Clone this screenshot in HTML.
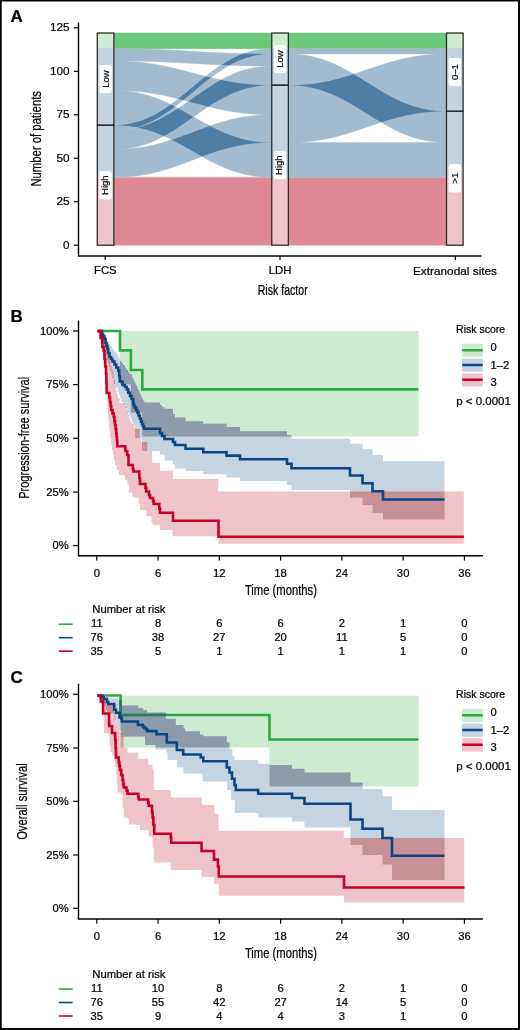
<!DOCTYPE html>
<html><head><meta charset="utf-8"><style>
html,body{margin:0;padding:0;background:#fff;}
svg{display:block;font-family:"Liberation Sans", sans-serif;will-change:transform;}
text{stroke:#000;stroke-width:0.22px;}
</style></head><body>
<svg width="520" height="1030" viewBox="0 0 520 1030">
<rect x="0" y="0" width="520" height="1030" fill="#fff"/>
<path d="M97.30,33.04 97.30,48.69 113.90,48.69 116.09,48.69 118.26,48.69 120.40,48.69 122.50,48.69 124.58,48.69 126.64,48.69 128.66,48.69 130.66,48.69 132.64,48.69 134.59,48.69 136.52,48.69 138.42,48.69 140.31,48.69 142.17,48.69 144.01,48.69 145.83,48.69 147.63,48.69 149.41,48.69 151.17,48.69 152.92,48.69 154.65,48.69 156.36,48.69 158.06,48.69 159.74,48.69 161.41,48.69 163.06,48.69 164.70,48.69 166.33,48.69 167.95,48.69 169.56,48.69 171.15,48.69 172.74,48.69 174.32,48.69 175.89,48.69 177.45,48.69 179.01,48.69 180.56,48.69 182.11,48.69 183.65,48.69 185.18,48.69 186.71,48.69 188.24,48.69 189.77,48.69 191.30,48.69 192.82,48.69 194.35,48.69 195.88,48.69 197.41,48.69 198.94,48.69 200.47,48.69 202.00,48.69 203.54,48.69 205.09,48.69 206.64,48.69 208.20,48.69 209.76,48.69 211.33,48.69 212.91,48.69 214.50,48.69 216.09,48.69 217.70,48.69 219.32,48.69 220.95,48.69 222.59,48.69 224.24,48.69 225.91,48.69 227.59,48.69 229.29,48.69 231.00,48.69 232.73,48.69 234.48,48.69 236.24,48.69 238.02,48.69 239.82,48.69 241.64,48.69 243.48,48.69 245.34,48.69 247.23,48.69 249.13,48.69 251.06,48.69 253.01,48.69 254.99,48.69 256.99,48.69 259.01,48.69 261.07,48.69 263.15,48.69 265.25,48.69 267.39,48.69 269.56,48.69 271.75,48.69 288.35,48.69 290.55,48.69 292.72,48.69 294.86,48.69 296.97,48.69 299.05,48.69 301.11,48.69 303.14,48.69 305.15,48.69 307.13,48.69 309.08,48.69 311.01,48.69 312.92,48.69 314.81,48.69 316.67,48.69 318.52,48.69 320.34,48.69 322.14,48.69 323.93,48.69 325.69,48.69 327.44,48.69 329.17,48.69 330.89,48.69 332.59,48.69 334.28,48.69 335.95,48.69 337.60,48.69 339.25,48.69 340.88,48.69 342.50,48.69 344.11,48.69 345.71,48.69 347.30,48.69 348.88,48.69 350.46,48.69 352.02,48.69 353.58,48.69 355.14,48.69 356.68,48.69 358.23,48.69 359.77,48.69 361.30,48.69 362.84,48.69 364.37,48.69 365.90,48.69 367.42,48.69 368.95,48.69 370.48,48.69 372.01,48.69 373.55,48.69 375.08,48.69 376.62,48.69 378.17,48.69 379.71,48.69 381.27,48.69 382.83,48.69 384.39,48.69 385.97,48.69 387.55,48.69 389.14,48.69 390.74,48.69 392.35,48.69 393.97,48.69 395.60,48.69 397.25,48.69 398.90,48.69 400.57,48.69 402.26,48.69 403.96,48.69 405.68,48.69 407.41,48.69 409.16,48.69 410.92,48.69 412.71,48.69 414.51,48.69 416.33,48.69 418.18,48.69 420.04,48.69 421.93,48.69 423.84,48.69 425.77,48.69 427.72,48.69 429.70,48.69 431.71,48.69 433.74,48.69 435.80,48.69 437.88,48.69 439.99,48.69 442.13,48.69 444.30,48.69 446.50,48.69 463.10,48.69 463.10,33.04 446.50,33.04 444.30,33.04 442.13,33.04 439.99,33.04 437.88,33.04 435.80,33.04 433.74,33.04 431.71,33.04 429.70,33.04 427.72,33.04 425.77,33.04 423.84,33.04 421.93,33.04 420.04,33.04 418.18,33.04 416.33,33.04 414.51,33.04 412.71,33.04 410.92,33.04 409.16,33.04 407.41,33.04 405.68,33.04 403.96,33.04 402.26,33.04 400.57,33.04 398.90,33.04 397.25,33.04 395.60,33.04 393.97,33.04 392.35,33.04 390.74,33.04 389.14,33.04 387.55,33.04 385.97,33.04 384.39,33.04 382.83,33.04 381.27,33.04 379.71,33.04 378.17,33.04 376.62,33.04 375.08,33.04 373.55,33.04 372.01,33.04 370.48,33.04 368.95,33.04 367.42,33.04 365.90,33.04 364.37,33.04 362.84,33.04 361.30,33.04 359.77,33.04 358.23,33.04 356.68,33.04 355.14,33.04 353.58,33.04 352.02,33.04 350.46,33.04 348.88,33.04 347.30,33.04 345.71,33.04 344.11,33.04 342.50,33.04 340.88,33.04 339.25,33.04 337.60,33.04 335.95,33.04 334.28,33.04 332.59,33.04 330.89,33.04 329.17,33.04 327.44,33.04 325.69,33.04 323.93,33.04 322.14,33.04 320.34,33.04 318.52,33.04 316.67,33.04 314.81,33.04 312.92,33.04 311.01,33.04 309.08,33.04 307.13,33.04 305.15,33.04 303.14,33.04 301.11,33.04 299.05,33.04 296.97,33.04 294.86,33.04 292.72,33.04 290.55,33.04 288.35,33.04 271.75,33.04 269.56,33.04 267.39,33.04 265.25,33.04 263.15,33.04 261.07,33.04 259.01,33.04 256.99,33.04 254.99,33.04 253.01,33.04 251.06,33.04 249.13,33.04 247.23,33.04 245.34,33.04 243.48,33.04 241.64,33.04 239.82,33.04 238.02,33.04 236.24,33.04 234.48,33.04 232.73,33.04 231.00,33.04 229.29,33.04 227.59,33.04 225.91,33.04 224.24,33.04 222.59,33.04 220.95,33.04 219.32,33.04 217.70,33.04 216.09,33.04 214.50,33.04 212.91,33.04 211.33,33.04 209.76,33.04 208.20,33.04 206.64,33.04 205.09,33.04 203.54,33.04 202.00,33.04 200.47,33.04 198.94,33.04 197.41,33.04 195.88,33.04 194.35,33.04 192.82,33.04 191.30,33.04 189.77,33.04 188.24,33.04 186.71,33.04 185.18,33.04 183.65,33.04 182.11,33.04 180.56,33.04 179.01,33.04 177.45,33.04 175.89,33.04 174.32,33.04 172.74,33.04 171.15,33.04 169.56,33.04 167.95,33.04 166.33,33.04 164.70,33.04 163.06,33.04 161.41,33.04 159.74,33.04 158.06,33.04 156.36,33.04 154.65,33.04 152.92,33.04 151.17,33.04 149.41,33.04 147.63,33.04 145.83,33.04 144.01,33.04 142.17,33.04 140.31,33.04 138.42,33.04 136.52,33.04 134.59,33.04 132.64,33.04 130.66,33.04 128.66,33.04 126.64,33.04 124.58,33.04 122.50,33.04 120.40,33.04 118.26,33.04 116.09,33.04 113.90,33.04Z" fill="#6dc87b" stroke="#6dc87b" stroke-width="0.5"/>
<path d="M97.30,177.38 97.30,245.20 113.90,245.20 116.09,245.20 118.26,245.20 120.40,245.20 122.50,245.20 124.58,245.20 126.64,245.20 128.66,245.20 130.66,245.20 132.64,245.20 134.59,245.20 136.52,245.20 138.42,245.20 140.31,245.20 142.17,245.20 144.01,245.20 145.83,245.20 147.63,245.20 149.41,245.20 151.17,245.20 152.92,245.20 154.65,245.20 156.36,245.20 158.06,245.20 159.74,245.20 161.41,245.20 163.06,245.20 164.70,245.20 166.33,245.20 167.95,245.20 169.56,245.20 171.15,245.20 172.74,245.20 174.32,245.20 175.89,245.20 177.45,245.20 179.01,245.20 180.56,245.20 182.11,245.20 183.65,245.20 185.18,245.20 186.71,245.20 188.24,245.20 189.77,245.20 191.30,245.20 192.82,245.20 194.35,245.20 195.88,245.20 197.41,245.20 198.94,245.20 200.47,245.20 202.00,245.20 203.54,245.20 205.09,245.20 206.64,245.20 208.20,245.20 209.76,245.20 211.33,245.20 212.91,245.20 214.50,245.20 216.09,245.20 217.70,245.20 219.32,245.20 220.95,245.20 222.59,245.20 224.24,245.20 225.91,245.20 227.59,245.20 229.29,245.20 231.00,245.20 232.73,245.20 234.48,245.20 236.24,245.20 238.02,245.20 239.82,245.20 241.64,245.20 243.48,245.20 245.34,245.20 247.23,245.20 249.13,245.20 251.06,245.20 253.01,245.20 254.99,245.20 256.99,245.20 259.01,245.20 261.07,245.20 263.15,245.20 265.25,245.20 267.39,245.20 269.56,245.20 271.75,245.20 288.35,245.20 290.55,245.20 292.72,245.20 294.86,245.20 296.97,245.20 299.05,245.20 301.11,245.20 303.14,245.20 305.15,245.20 307.13,245.20 309.08,245.20 311.01,245.20 312.92,245.20 314.81,245.20 316.67,245.20 318.52,245.20 320.34,245.20 322.14,245.20 323.93,245.20 325.69,245.20 327.44,245.20 329.17,245.20 330.89,245.20 332.59,245.20 334.28,245.20 335.95,245.20 337.60,245.20 339.25,245.20 340.88,245.20 342.50,245.20 344.11,245.20 345.71,245.20 347.30,245.20 348.88,245.20 350.46,245.20 352.02,245.20 353.58,245.20 355.14,245.20 356.68,245.20 358.23,245.20 359.77,245.20 361.30,245.20 362.84,245.20 364.37,245.20 365.90,245.20 367.42,245.20 368.95,245.20 370.48,245.20 372.01,245.20 373.55,245.20 375.08,245.20 376.62,245.20 378.17,245.20 379.71,245.20 381.27,245.20 382.83,245.20 384.39,245.20 385.97,245.20 387.55,245.20 389.14,245.20 390.74,245.20 392.35,245.20 393.97,245.20 395.60,245.20 397.25,245.20 398.90,245.20 400.57,245.20 402.26,245.20 403.96,245.20 405.68,245.20 407.41,245.20 409.16,245.20 410.92,245.20 412.71,245.20 414.51,245.20 416.33,245.20 418.18,245.20 420.04,245.20 421.93,245.20 423.84,245.20 425.77,245.20 427.72,245.20 429.70,245.20 431.71,245.20 433.74,245.20 435.80,245.20 437.88,245.20 439.99,245.20 442.13,245.20 444.30,245.20 446.50,245.20 463.10,245.20 463.10,177.38 446.50,177.38 444.30,177.38 442.13,177.38 439.99,177.38 437.88,177.38 435.80,177.38 433.74,177.38 431.71,177.38 429.70,177.38 427.72,177.38 425.77,177.38 423.84,177.38 421.93,177.38 420.04,177.38 418.18,177.38 416.33,177.38 414.51,177.38 412.71,177.38 410.92,177.38 409.16,177.38 407.41,177.38 405.68,177.38 403.96,177.38 402.26,177.38 400.57,177.38 398.90,177.38 397.25,177.38 395.60,177.38 393.97,177.38 392.35,177.38 390.74,177.38 389.14,177.38 387.55,177.38 385.97,177.38 384.39,177.38 382.83,177.38 381.27,177.38 379.71,177.38 378.17,177.38 376.62,177.38 375.08,177.38 373.55,177.38 372.01,177.38 370.48,177.38 368.95,177.38 367.42,177.38 365.90,177.38 364.37,177.38 362.84,177.38 361.30,177.38 359.77,177.38 358.23,177.38 356.68,177.38 355.14,177.38 353.58,177.38 352.02,177.38 350.46,177.38 348.88,177.38 347.30,177.38 345.71,177.38 344.11,177.38 342.50,177.38 340.88,177.38 339.25,177.38 337.60,177.38 335.95,177.38 334.28,177.38 332.59,177.38 330.89,177.38 329.17,177.38 327.44,177.38 325.69,177.38 323.93,177.38 322.14,177.38 320.34,177.38 318.52,177.38 316.67,177.38 314.81,177.38 312.92,177.38 311.01,177.38 309.08,177.38 307.13,177.38 305.15,177.38 303.14,177.38 301.11,177.38 299.05,177.38 296.97,177.38 294.86,177.38 292.72,177.38 290.55,177.38 288.35,177.38 271.75,177.38 269.56,177.38 267.39,177.38 265.25,177.38 263.15,177.38 261.07,177.38 259.01,177.38 256.99,177.38 254.99,177.38 253.01,177.38 251.06,177.38 249.13,177.38 247.23,177.38 245.34,177.38 243.48,177.38 241.64,177.38 239.82,177.38 238.02,177.38 236.24,177.38 234.48,177.38 232.73,177.38 231.00,177.38 229.29,177.38 227.59,177.38 225.91,177.38 224.24,177.38 222.59,177.38 220.95,177.38 219.32,177.38 217.70,177.38 216.09,177.38 214.50,177.38 212.91,177.38 211.33,177.38 209.76,177.38 208.20,177.38 206.64,177.38 205.09,177.38 203.54,177.38 202.00,177.38 200.47,177.38 198.94,177.38 197.41,177.38 195.88,177.38 194.35,177.38 192.82,177.38 191.30,177.38 189.77,177.38 188.24,177.38 186.71,177.38 185.18,177.38 183.65,177.38 182.11,177.38 180.56,177.38 179.01,177.38 177.45,177.38 175.89,177.38 174.32,177.38 172.74,177.38 171.15,177.38 169.56,177.38 167.95,177.38 166.33,177.38 164.70,177.38 163.06,177.38 161.41,177.38 159.74,177.38 158.06,177.38 156.36,177.38 154.65,177.38 152.92,177.38 151.17,177.38 149.41,177.38 147.63,177.38 145.83,177.38 144.01,177.38 142.17,177.38 140.31,177.38 138.42,177.38 136.52,177.38 134.59,177.38 132.64,177.38 130.66,177.38 128.66,177.38 126.64,177.38 124.58,177.38 122.50,177.38 120.40,177.38 118.26,177.38 116.09,177.38 113.90,177.38Z" fill="#e08996" stroke="#e08996" stroke-width="0.5"/>
<path d="M97.30,130.43 97.30,149.55 97.30,177.38 113.90,177.38 116.09,177.37 118.26,177.33 120.40,177.27 122.50,177.18 124.58,177.07 126.64,176.94 128.66,176.78 130.66,176.60 132.64,176.41 134.59,176.19 136.52,175.95 138.42,175.69 140.31,175.41 142.17,175.12 144.01,174.80 145.83,174.47 147.63,174.13 149.41,173.76 151.17,173.38 152.92,172.99 154.65,172.58 156.36,172.16 158.06,171.73 159.74,171.28 161.41,170.82 163.06,170.35 164.70,169.87 166.33,169.37 167.95,168.87 169.56,168.36 171.15,167.84 172.74,167.32 174.32,166.78 175.89,166.24 177.45,165.69 179.01,165.14 180.56,164.58 182.11,164.01 183.65,163.45 185.18,162.88 186.71,162.30 188.24,161.73 189.77,161.15 191.30,160.57 192.82,159.99 194.35,159.41 195.88,158.83 197.41,158.25 198.94,157.68 200.47,157.10 202.00,156.53 202.06,156.51 203.54,157.33 205.09,158.18 206.64,159.02 208.20,159.85 209.76,160.67 211.33,161.48 212.91,162.28 214.50,163.07 216.09,163.85 217.70,164.62 219.32,165.37 220.95,166.11 222.59,166.83 224.24,167.54 225.91,168.23 227.59,168.90 229.29,169.55 231.00,170.18 232.73,170.80 234.48,171.39 236.24,171.95 238.02,172.50 239.82,173.02 241.64,173.51 243.48,173.98 245.34,174.43 247.23,174.84 249.13,175.23 251.06,175.59 253.01,175.92 254.99,176.22 256.99,176.48 259.01,176.71 261.07,176.91 263.15,177.08 265.25,177.21 267.39,177.30 269.56,177.36 271.75,177.38 288.35,177.38 290.55,177.38 292.72,177.38 294.86,177.38 296.97,177.38 299.05,177.38 301.11,177.38 303.14,177.38 305.15,177.38 307.13,177.38 309.08,177.38 311.01,177.38 312.92,177.38 314.81,177.38 316.67,177.38 318.52,177.38 320.34,177.38 322.14,177.38 323.93,177.38 325.69,177.38 327.44,177.38 329.17,177.38 330.89,177.38 332.59,177.38 334.28,177.38 335.95,177.38 337.60,177.38 339.25,177.38 340.88,177.38 342.50,177.38 344.11,177.38 345.71,177.38 347.30,177.38 348.88,177.38 350.46,177.38 352.02,177.38 353.58,177.38 355.14,177.38 356.68,177.38 358.23,177.38 359.77,177.38 361.30,177.38 362.84,177.38 364.37,177.38 365.90,177.38 367.42,177.38 368.95,177.38 370.48,177.38 372.01,177.38 373.55,177.38 375.08,177.38 376.62,177.38 378.17,177.38 379.71,177.38 381.27,177.38 382.83,177.38 384.39,177.38 385.97,177.38 387.55,177.38 389.14,177.38 390.74,177.38 392.35,177.38 393.97,177.38 395.60,177.38 397.25,177.38 398.90,177.38 400.57,177.38 402.26,177.38 403.96,177.38 405.68,177.38 407.41,177.38 409.16,177.38 410.92,177.38 412.71,177.38 414.51,177.38 416.33,177.38 418.18,177.38 420.04,177.38 421.93,177.38 423.84,177.38 425.77,177.38 427.72,177.38 429.70,177.38 431.71,177.38 433.74,177.38 435.80,177.38 437.88,177.38 439.99,177.38 442.13,177.38 444.30,177.38 446.50,177.38 463.10,177.38 463.10,142.60 463.10,123.47 463.10,111.30 463.10,83.47 463.10,53.91 463.10,48.69 446.50,48.69 444.30,48.69 442.13,48.69 439.99,48.69 437.88,48.69 435.80,48.69 433.74,48.69 431.71,48.69 429.70,48.69 427.72,48.69 425.77,48.69 423.84,48.69 421.93,48.69 420.04,48.69 418.18,48.69 416.33,48.69 414.51,48.69 412.71,48.69 410.92,48.69 409.16,48.69 407.41,48.69 405.68,48.69 403.96,48.69 402.26,48.69 400.57,48.69 398.90,48.69 397.25,48.69 395.60,48.69 393.97,48.69 392.35,48.69 390.74,48.69 389.14,48.69 387.55,48.69 385.97,48.69 384.39,48.69 382.83,48.69 381.27,48.69 379.71,48.69 378.17,48.69 376.62,48.69 375.08,48.69 373.55,48.69 372.01,48.69 370.48,48.69 368.95,48.69 367.42,48.69 365.90,48.69 364.37,48.69 362.84,48.69 361.30,48.69 359.77,48.69 358.23,48.69 356.68,48.69 355.14,48.69 353.58,48.69 352.02,48.69 350.46,48.69 348.88,48.69 347.30,48.69 345.71,48.69 344.11,48.69 342.50,48.69 340.88,48.69 339.25,48.69 337.60,48.69 335.95,48.69 334.28,48.69 332.59,48.69 330.89,48.69 329.17,48.69 327.44,48.69 325.69,48.69 323.93,48.69 322.14,48.69 320.34,48.69 318.52,48.69 316.67,48.69 314.81,48.69 312.92,48.69 311.01,48.69 309.08,48.69 307.13,48.69 305.15,48.69 303.14,48.69 301.11,48.69 299.05,48.69 296.97,48.69 294.86,48.69 292.72,48.69 290.55,48.69 288.35,48.69 271.75,48.69 269.56,48.72 267.39,48.80 265.25,48.94 263.15,49.13 261.07,49.38 259.01,49.67 256.99,50.01 254.99,50.40 253.01,50.84 251.06,51.32 249.13,51.84 247.23,52.41 245.34,53.02 243.75,53.58 243.48,53.57 241.64,53.52 239.82,53.47 238.02,53.42 236.24,53.37 234.48,53.31 232.73,53.25 231.00,53.19 229.29,53.13 227.59,53.06 225.91,52.99 224.24,52.93 222.59,52.86 220.95,52.78 219.32,52.71 217.70,52.63 216.09,52.56 214.50,52.48 212.91,52.40 211.33,52.32 209.76,52.24 208.20,52.16 206.64,52.07 205.09,51.99 203.54,51.91 202.00,51.82 200.47,51.73 198.94,51.65 197.41,51.56 195.88,51.48 194.35,51.39 192.82,51.30 191.30,51.21 189.77,51.13 188.24,51.04 186.71,50.95 185.18,50.87 183.65,50.78 182.11,50.70 180.56,50.61 179.01,50.53 177.45,50.45 175.89,50.36 174.32,50.28 172.74,50.20 171.15,50.12 169.56,50.05 167.95,49.97 166.33,49.89 164.70,49.82 163.06,49.75 161.41,49.68 159.74,49.61 158.06,49.54 156.36,49.48 154.65,49.41 152.92,49.35 151.17,49.29 149.41,49.24 147.63,49.18 145.83,49.13 144.01,49.08 142.17,49.03 140.31,48.99 138.42,48.95 136.52,48.91 134.59,48.87 132.64,48.84 130.66,48.81 128.66,48.78 126.64,48.76 124.58,48.74 122.50,48.72 120.40,48.71 118.26,48.70 116.09,48.69 113.90,48.69 97.30,48.69 97.30,60.87 97.30,90.43 97.30,125.21ZM116.09,90.44 118.26,90.46 120.40,90.51 122.50,90.57 124.58,90.65 126.64,90.74 128.66,90.85 130.66,90.97 132.64,91.11 134.59,91.26 136.52,91.43 138.42,91.61 140.31,91.81 142.17,92.01 144.01,92.23 145.83,92.46 147.63,92.71 149.41,92.96 151.17,93.23 152.92,93.50 154.65,93.79 156.36,94.08 158.06,94.39 159.74,94.70 161.41,95.02 163.06,95.35 164.70,95.69 166.33,96.03 167.95,96.38 169.56,96.74 171.15,97.10 172.74,97.47 174.32,97.85 175.89,98.23 177.45,98.61 178.31,98.82 177.45,99.49 175.89,100.70 174.32,101.89 172.74,103.07 171.15,104.23 170.73,104.53 169.56,103.95 167.95,103.19 166.33,102.44 164.70,101.70 163.06,100.98 161.41,100.27 159.74,99.58 158.06,98.91 156.36,98.26 154.65,97.62 152.92,97.01 151.17,96.42 149.41,95.85 147.63,95.31 145.83,94.79 144.01,94.29 142.17,93.82 140.31,93.38 138.42,92.96 136.52,92.58 134.59,92.22 132.64,91.89 130.66,91.59 128.66,91.33 126.64,91.09 124.58,90.89 122.50,90.73 120.40,90.60 118.26,90.51 116.09,90.45 113.90,90.43ZM116.09,130.40 118.26,130.31 120.40,130.18 122.50,129.99 124.58,129.74 126.64,129.45 128.66,129.11 130.66,128.72 132.64,128.28 134.59,127.80 136.34,127.32 136.52,127.36 137.45,127.54 136.52,127.78 134.59,128.22 132.64,128.62 130.66,128.99 128.66,129.32 126.64,129.61 124.58,129.85 122.50,130.06 120.40,130.22 118.26,130.33 116.09,130.40 113.90,130.43ZM175.89,105.92 177.45,104.71 179.01,103.49 180.56,102.26 182.11,101.02 183.26,100.08 183.65,100.18 185.18,100.58 186.71,100.98 188.24,101.39 188.33,101.41 188.24,101.47 186.71,102.53 185.18,103.59 183.65,104.65 182.11,105.70 180.56,106.74 179.01,107.78 178.16,108.34 177.45,107.96 175.89,107.14 174.93,106.64ZM209.76,106.98 211.33,107.36 212.91,107.73 214.50,108.10 216.09,108.46 217.70,108.82 219.32,109.17 220.95,109.52 222.59,109.85 224.24,110.18 225.91,110.50 227.59,110.82 229.29,111.12 231.00,111.42 232.73,111.70 234.48,111.98 236.24,112.24 238.02,112.50 239.82,112.74 241.64,112.97 243.48,113.19 245.34,113.40 247.23,113.59 249.13,113.77 251.06,113.94 253.01,114.09 254.99,114.23 256.99,114.36 259.01,114.46 261.07,114.56 263.15,114.64 265.25,114.70 267.39,114.74 269.56,114.77 271.75,114.77 269.56,114.79 267.39,114.83 265.25,114.89 263.15,114.97 261.07,115.09 259.01,115.22 256.99,115.37 254.99,115.55 253.01,115.75 251.06,115.97 249.13,116.21 247.23,116.47 245.34,116.74 243.48,117.04 241.64,117.35 239.82,117.68 238.02,118.03 236.24,118.39 234.48,118.77 232.73,119.16 231.00,119.57 229.29,119.99 227.59,120.43 225.91,120.88 224.24,121.34 222.59,121.81 220.95,122.29 219.32,122.78 217.70,123.28 216.09,123.79 214.50,124.31 212.91,124.84 211.33,125.37 209.79,125.90 209.76,125.89 208.20,125.07 206.64,124.24 205.09,123.40 203.54,122.55 202.00,121.70 200.47,120.84 198.94,119.98 197.41,119.12 195.88,118.25 194.35,117.38 193.51,116.90 194.35,116.31 195.88,115.24 197.41,114.17 198.94,113.11 200.47,112.04 202.00,110.99 203.54,109.94 205.09,108.89 206.64,107.86 208.20,106.84 208.47,106.66ZM442.13,53.96 439.99,54.01 437.88,54.09 435.80,54.19 433.74,54.31 431.71,54.45 429.70,54.61 427.72,54.79 425.77,54.98 423.84,55.20 421.93,55.43 420.04,55.68 418.18,55.95 416.33,56.23 414.51,56.53 412.71,56.84 410.92,57.17 409.16,57.51 407.41,57.86 405.68,58.23 403.96,58.61 402.26,59.00 400.57,59.40 398.90,59.81 397.25,60.24 395.60,60.67 393.97,61.11 392.35,61.57 390.74,62.03 389.14,62.49 387.55,62.97 385.97,63.45 384.39,63.94 382.83,64.43 381.27,64.93 379.71,65.43 378.17,65.94 376.62,66.45 375.08,66.96 373.55,67.48 372.01,68.00 370.48,68.52 368.95,69.04 367.42,69.56 365.90,70.08 364.37,70.60 362.84,71.12 361.30,71.64 359.77,72.16 358.23,72.67 356.68,73.18 355.14,73.69 353.67,74.16 353.58,74.11 352.02,73.20 350.46,72.29 348.88,71.40 347.30,70.52 345.71,69.65 344.11,68.79 342.50,67.95 340.88,67.12 339.25,66.31 337.60,65.51 335.95,64.73 334.28,63.98 332.59,63.24 330.89,62.52 329.17,61.83 327.44,61.15 325.69,60.50 323.93,59.88 322.14,59.28 320.34,58.71 318.52,58.16 316.67,57.64 314.81,57.16 312.92,56.70 311.01,56.27 309.08,55.88 307.13,55.52 305.15,55.19 303.14,54.90 301.11,54.64 299.05,54.42 296.97,54.24 294.86,54.10 292.72,53.99 290.55,53.93 288.35,53.91 290.55,53.91 292.72,53.91 294.86,53.91 296.97,53.91 299.05,53.91 301.11,53.91 303.14,53.91 305.15,53.91 307.13,53.91 309.08,53.91 311.01,53.91 312.92,53.91 314.81,53.91 316.67,53.91 318.52,53.91 320.34,53.91 322.14,53.91 323.93,53.91 325.69,53.91 327.44,53.91 329.17,53.91 330.89,53.91 332.59,53.91 334.28,53.91 335.95,53.91 337.60,53.91 339.25,53.91 340.88,53.91 342.50,53.91 344.11,53.91 345.71,53.91 347.30,53.91 348.88,53.91 350.46,53.91 352.02,53.91 353.58,53.91 355.14,53.91 356.68,53.91 358.23,53.91 359.77,53.91 361.30,53.91 362.84,53.91 364.37,53.91 365.90,53.91 367.42,53.91 368.95,53.91 370.48,53.91 372.01,53.91 373.55,53.91 375.08,53.91 376.62,53.91 378.17,53.91 379.71,53.91 381.27,53.91 382.83,53.91 384.39,53.91 385.97,53.91 387.55,53.91 389.14,53.91 390.74,53.91 392.35,53.91 393.97,53.91 395.60,53.91 397.25,53.91 398.90,53.91 400.57,53.91 402.26,53.91 403.96,53.91 405.68,53.91 407.41,53.91 409.16,53.91 410.92,53.91 412.71,53.91 414.51,53.91 416.33,53.91 418.18,53.91 420.04,53.91 421.93,53.91 423.84,53.91 425.77,53.91 427.72,53.91 429.70,53.91 431.71,53.91 433.74,53.91 435.80,53.91 437.88,53.91 439.99,53.91 442.13,53.91 444.30,53.91 446.50,53.91 444.30,53.92ZM220.95,79.95 219.32,79.61 217.70,79.26 216.09,78.90 214.50,78.54 212.91,78.17 211.33,77.79 210.77,77.66 211.33,77.23 212.91,76.05 214.50,74.89 216.09,73.75 217.70,72.62 219.32,71.52 220.95,70.44 222.59,69.38 224.24,68.34 225.91,67.33 227.59,66.35 229.29,65.39 229.45,65.31 231.00,65.36 232.73,65.42 234.48,65.48 236.24,65.54 238.02,65.59 239.82,65.65 241.64,65.70 243.48,65.74 245.34,65.79 247.23,65.83 249.13,65.87 251.06,65.90 253.01,65.94 254.99,65.97 256.99,65.99 259.01,66.02 261.07,66.04 263.15,66.05 265.25,66.07 267.39,66.08 269.56,66.08 271.75,66.08 269.56,66.11 267.39,66.18 265.25,66.29 263.15,66.45 261.07,66.66 259.01,66.90 256.99,67.19 254.99,67.52 253.01,67.88 251.06,68.29 249.13,68.73 247.23,69.21 245.34,69.72 243.48,70.27 241.64,70.85 239.82,71.46 238.02,72.10 236.24,72.77 234.48,73.48 232.73,74.20 231.00,74.96 229.29,75.74 227.59,76.54 225.91,77.37 224.24,78.22 222.59,79.09 220.98,79.96ZM203.54,75.86 202.00,75.46 200.47,75.06 198.94,74.66 197.41,74.25 195.88,73.85 194.35,73.44 192.82,73.04 191.30,72.63 189.77,72.23 188.24,71.82 186.71,71.42 185.18,71.02 183.65,70.62 182.11,70.22 180.56,69.83 179.01,69.44 177.45,69.05 175.89,68.66 174.32,68.29 172.74,67.91 171.15,67.54 169.56,67.18 167.95,66.82 166.33,66.47 164.70,66.12 163.06,65.79 161.41,65.46 159.74,65.14 158.06,64.82 156.36,64.52 154.65,64.22 152.92,63.94 151.17,63.66 149.41,63.40 147.63,63.14 145.83,62.90 144.01,62.67 142.17,62.45 140.31,62.24 138.42,62.05 136.52,61.87 134.59,61.70 132.64,61.55 130.66,61.41 128.66,61.28 126.64,61.18 124.58,61.08 122.50,61.01 120.40,60.95 118.26,60.90 116.09,60.87 113.90,60.87 116.09,60.87 118.26,60.87 120.40,60.88 122.50,60.90 124.58,60.91 126.64,60.93 128.66,60.96 130.66,60.98 132.64,61.01 134.59,61.04 136.52,61.08 138.42,61.12 140.31,61.16 142.17,61.21 144.01,61.25 145.83,61.30 147.63,61.35 149.41,61.41 151.17,61.47 152.92,61.52 154.65,61.59 156.36,61.65 158.06,61.71 159.74,61.78 161.41,61.85 163.06,61.92 164.70,61.99 166.33,62.07 167.95,62.14 169.56,62.22 171.15,62.30 172.74,62.38 174.32,62.46 175.89,62.54 177.45,62.62 179.01,62.70 180.56,62.79 182.11,62.87 183.65,62.96 185.18,63.04 186.71,63.13 188.24,63.21 189.77,63.30 191.30,63.39 192.82,63.47 194.35,63.56 195.88,63.65 197.41,63.73 198.94,63.82 200.47,63.91 202.00,63.99 203.54,64.08 205.09,64.16 206.64,64.25 208.20,64.33 209.76,64.41 211.33,64.49 212.91,64.57 214.50,64.65 216.09,64.73 217.70,64.81 219.32,64.88 220.95,64.96 221.33,64.97 220.95,65.22 219.32,66.30 217.70,67.41 216.09,68.53 214.50,69.67 212.91,70.83 211.33,72.01 209.76,73.20 208.20,74.41 206.64,75.63 205.67,76.40 205.09,76.25ZM118.26,149.46 120.40,149.35 122.50,149.19 124.58,148.98 126.64,148.74 128.66,148.45 130.66,148.12 132.64,147.75 134.59,147.35 136.52,146.91 138.42,146.43 140.31,145.92 142.17,145.37 144.01,144.79 145.83,144.18 147.63,143.54 149.41,142.86 151.17,142.16 152.92,141.43 154.65,140.68 156.36,139.90 158.06,139.10 159.74,138.27 161.41,137.42 163.06,136.55 163.87,136.11 164.70,136.48 166.33,137.22 167.95,137.97 169.56,138.73 171.15,139.51 171.76,139.82 171.15,140.02 169.56,140.54 167.95,141.05 166.33,141.55 164.70,142.04 163.06,142.52 161.41,142.99 159.74,143.45 158.06,143.90 156.36,144.34 154.65,144.76 152.92,145.17 151.17,145.56 149.41,145.94 147.63,146.30 145.83,146.65 144.01,146.98 142.17,147.29 140.31,147.59 138.42,147.86 136.52,148.12 134.59,148.36 132.64,148.58 130.66,148.78 128.66,148.96 126.64,149.11 124.58,149.24 122.50,149.36 120.40,149.44 118.26,149.50 116.09,149.54 113.90,149.55 116.09,149.53ZM382.83,123.31 384.39,124.22 385.97,125.11 387.55,125.99 389.14,126.86 390.74,127.72 392.35,128.56 393.97,129.39 395.60,130.20 397.25,131.00 398.90,131.77 400.57,132.53 402.26,133.27 403.96,133.99 405.68,134.68 407.41,135.36 409.16,136.01 410.92,136.63 412.71,137.23 414.51,137.80 416.33,138.35 418.18,138.87 420.04,139.35 421.93,139.81 423.84,140.24 425.77,140.63 427.72,140.99 429.70,141.32 431.71,141.61 433.74,141.87 435.80,142.09 437.88,142.27 439.99,142.41 442.13,142.52 444.30,142.58 446.50,142.60 444.30,142.60 442.13,142.60 439.99,142.60 437.88,142.60 435.80,142.60 433.74,142.60 431.71,142.60 429.70,142.60 427.72,142.60 425.77,142.60 423.84,142.60 421.93,142.60 420.04,142.60 418.18,142.60 416.33,142.60 414.51,142.60 412.71,142.60 410.92,142.60 409.16,142.60 407.41,142.60 405.68,142.60 403.96,142.60 402.26,142.60 400.57,142.60 398.90,142.60 397.25,142.60 395.60,142.60 393.97,142.60 392.35,142.60 390.74,142.60 389.14,142.60 387.55,142.60 385.97,142.60 384.39,142.60 382.83,142.60 381.27,142.60 379.71,142.60 378.17,142.60 376.62,142.60 375.08,142.60 373.55,142.60 372.01,142.60 370.48,142.60 368.95,142.60 367.42,142.60 365.90,142.60 364.37,142.60 362.84,142.60 361.30,142.60 359.77,142.60 358.23,142.60 356.68,142.60 355.14,142.60 353.58,142.60 352.02,142.60 350.46,142.60 348.88,142.60 347.30,142.60 345.71,142.60 344.11,142.60 342.50,142.60 340.88,142.60 339.25,142.60 337.60,142.60 335.95,142.60 334.28,142.60 332.59,142.60 330.89,142.60 329.17,142.60 327.44,142.60 325.69,142.60 323.93,142.60 322.14,142.60 320.34,142.60 318.52,142.60 316.67,142.60 314.81,142.60 312.92,142.60 311.01,142.60 309.08,142.60 307.13,142.60 305.15,142.60 303.14,142.60 301.11,142.60 299.05,142.60 296.97,142.60 294.86,142.60 292.72,142.60 290.55,142.60 288.35,142.60 290.55,142.59 292.72,142.55 294.86,142.50 296.97,142.42 299.05,142.32 301.11,142.20 303.14,142.06 305.15,141.90 307.13,141.72 309.08,141.53 311.01,141.31 312.92,141.08 314.81,140.83 316.67,140.56 318.52,140.28 320.34,139.98 322.14,139.67 323.93,139.34 325.69,139.00 327.44,138.65 329.17,138.28 330.89,137.90 332.59,137.51 334.28,137.11 335.95,136.69 337.60,136.27 339.25,135.84 340.88,135.39 342.50,134.94 344.11,134.48 345.71,134.02 347.30,133.54 348.88,133.06 350.46,132.57 352.02,132.08 353.58,131.58 355.14,131.08 356.68,130.57 358.23,130.06 359.77,129.55 361.30,129.03 362.84,128.51 364.37,127.99 365.90,127.47 367.42,126.95 368.95,126.43 370.48,125.91 372.01,125.39 373.55,124.87 375.08,124.35 376.62,123.84 378.17,123.33 379.71,122.82 381.18,122.34 381.27,122.40Z" fill="#a2bbcf" stroke="#a2bbcf" stroke-width="0.4" fill-rule="evenodd"/>
<path d="M229.29,65.30 229.45,65.31 231.00,64.46 232.73,63.57 234.48,62.70 236.24,61.87 238.02,61.07 239.82,60.31 241.64,59.58 243.48,58.89 245.34,58.24 247.23,57.63 249.13,57.06 251.06,56.53 253.01,56.05 254.99,55.62 256.99,55.23 259.01,54.88 261.07,54.59 263.15,54.35 265.25,54.16 267.39,54.02 269.56,53.94 271.75,53.91 269.56,53.91 267.39,53.90 265.25,53.89 263.15,53.88 261.07,53.86 259.01,53.84 256.99,53.82 254.99,53.79 253.01,53.76 251.06,53.73 249.13,53.70 247.23,53.66 245.34,53.61 243.75,53.58 243.48,53.67 241.64,54.36 239.82,55.09 238.02,55.85 236.24,56.65 234.48,57.48 232.73,58.35 231.00,59.25 229.29,60.17 227.59,61.13 225.91,62.11 224.24,63.13 222.59,64.16 221.33,64.97 222.59,65.03 224.24,65.10 225.91,65.17 227.59,65.23ZM382.83,92.01 381.27,91.10 379.71,90.17 378.17,89.24 376.62,88.31 375.08,87.37 373.55,86.42 372.01,85.47 370.48,84.52 368.95,83.56 367.42,82.60 365.90,81.65 364.37,80.69 362.84,79.74 361.30,78.79 359.77,77.84 358.23,76.90 356.68,75.96 355.14,75.03 353.67,74.16 353.58,74.19 352.02,74.69 350.46,75.19 348.88,75.67 347.30,76.15 345.71,76.63 344.11,77.10 342.50,77.56 340.88,78.01 339.25,78.45 339.21,78.46 337.60,78.88 335.95,79.31 334.28,79.72 332.59,80.12 330.89,80.52 329.17,80.89 327.44,81.26 325.69,81.62 323.93,81.96 322.14,82.28 320.34,82.60 318.52,82.89 316.67,83.18 314.81,83.44 312.92,83.69 311.01,83.92 309.08,84.14 307.13,84.34 305.15,84.51 303.14,84.67 301.11,84.81 299.05,84.93 296.97,85.03 294.86,85.11 292.72,85.17 290.55,85.20 288.35,85.21 290.55,85.23 292.72,85.30 294.86,85.40 296.97,85.54 299.05,85.72 301.11,85.94 303.14,86.20 305.15,86.49 307.13,86.82 309.08,87.18 311.01,87.57 312.92,88.00 314.81,88.46 316.67,88.95 318.52,89.46 320.34,90.01 322.14,90.58 323.93,91.18 325.69,91.80 327.44,92.45 329.17,93.13 330.89,93.82 332.59,94.54 334.28,95.28 335.95,96.04 337.60,96.81 339.25,97.61 340.88,98.42 342.50,99.25 344.11,100.09 345.71,100.95 347.30,101.82 348.88,102.70 350.46,103.59 351.75,104.34 352.02,104.50 353.58,105.41 355.14,106.33 356.68,107.26 358.23,108.20 359.77,109.14 361.30,110.09 362.84,111.04 364.37,111.99 365.90,112.95 367.42,113.91 368.95,114.86 370.48,115.82 372.01,116.77 373.55,117.72 375.08,118.67 376.62,119.61 378.17,120.55 379.71,121.48 381.18,122.34 381.27,122.32 382.83,121.82 384.39,121.32 385.97,120.84 387.55,120.35 389.14,119.88 390.74,119.41 392.35,118.95 393.97,118.50 395.60,118.06 397.25,117.62 398.90,117.20 400.57,116.79 402.26,116.39 403.96,115.99 405.68,115.61 405.77,115.59 407.41,115.25 409.16,114.89 410.92,114.55 412.71,114.23 414.51,113.91 416.33,113.62 418.18,113.33 420.04,113.07 421.93,112.82 423.84,112.59 425.77,112.37 427.72,112.17 429.70,112.00 431.71,111.84 433.74,111.70 435.80,111.58 437.88,111.48 439.99,111.40 442.13,111.34 444.30,111.31 446.50,111.30 444.30,111.28 442.13,111.21 439.99,111.11 437.88,110.97 435.80,110.79 433.74,110.57 431.71,110.31 429.70,110.02 427.72,109.69 425.77,109.33 423.84,108.93 421.93,108.51 420.04,108.05 418.18,107.56 416.33,107.05 414.51,106.50 412.71,105.93 410.92,105.33 409.16,104.70 407.41,104.05 405.68,103.38 403.96,102.69 402.26,101.97 400.57,101.23 398.90,100.47 397.25,99.70 395.60,98.90 393.97,98.09 392.35,97.26 390.74,96.42 389.14,95.56 387.55,94.69 385.97,93.81 385.06,93.29 384.39,92.91ZM183.65,99.77 185.18,98.52 186.71,97.26 188.24,95.99 189.77,94.72 191.30,93.44 192.82,92.17 194.35,90.89 195.88,89.62 197.41,88.35 198.94,87.08 200.47,85.82 202.00,84.56 203.54,83.31 205.09,82.07 206.64,80.84 208.20,79.63 209.76,78.42 210.77,77.66 209.76,77.41 208.20,77.03 206.64,76.64 205.67,76.40 205.09,76.86 203.54,78.10 202.00,79.34 200.47,80.60 198.94,81.86 197.41,83.13 195.88,84.40 194.35,85.68 192.82,86.95 191.30,88.23 189.77,89.50 188.24,90.77 186.71,92.04 185.18,93.30 183.65,94.56 182.11,95.81 180.56,97.05 179.01,98.28 178.31,98.82 179.01,99.00 180.56,99.39 182.11,99.78 183.26,100.08ZM197.41,103.82 198.94,104.22 200.47,104.62 202.00,105.02 203.54,105.42 205.09,105.81 206.64,106.21 208.20,106.59 208.47,106.66 209.76,105.82 211.33,104.82 212.91,103.83 214.50,102.85 216.09,101.89 217.70,100.95 219.32,100.02 220.95,99.11 222.59,98.22 224.24,97.35 225.91,96.50 227.59,95.67 229.29,94.87 231.00,94.09 232.73,93.33 234.48,92.60 236.24,91.90 238.02,91.23 239.82,90.59 241.64,89.98 243.48,89.40 245.34,88.85 247.23,88.34 249.13,87.86 251.06,87.42 253.01,87.01 254.99,86.65 256.99,86.32 259.01,86.03 261.07,85.79 263.15,85.58 265.25,85.42 267.39,85.31 269.56,85.24 271.75,85.21 269.56,85.20 267.39,85.18 265.25,85.13 263.15,85.07 261.07,84.99 259.01,84.90 256.99,84.79 254.99,84.67 253.01,84.53 251.06,84.38 249.13,84.21 247.23,84.03 245.34,83.83 243.48,83.63 241.64,83.41 239.82,83.18 238.02,82.93 236.24,82.68 234.48,82.41 232.73,82.14 231.00,81.85 229.29,81.56 227.59,81.25 225.91,80.94 224.24,80.62 222.59,80.29 220.98,79.96 220.95,79.98 219.32,80.89 217.70,81.82 216.09,82.76 214.50,83.73 212.91,84.70 211.33,85.69 209.76,86.69 208.20,87.71 206.64,88.73 205.09,89.77 203.54,90.81 202.00,91.86 200.47,92.91 198.94,93.98 197.41,95.04 195.88,96.11 194.35,97.18 192.82,98.25 191.30,99.33 189.77,100.40 188.33,101.41 189.77,101.79 191.30,102.20 192.82,102.60 194.35,103.01 195.88,103.41ZM124.58,125.67 126.64,125.87 128.66,126.11 130.66,126.37 132.64,126.67 134.59,127.00 136.34,127.32 136.52,127.28 138.42,126.71 140.31,126.10 142.17,125.45 144.01,124.76 145.83,124.03 147.63,123.27 149.41,122.47 151.17,121.64 152.92,120.77 154.65,119.87 156.36,118.95 158.06,117.99 159.74,117.00 161.41,115.99 163.06,114.96 164.70,113.90 166.33,112.82 167.95,111.71 169.56,110.59 171.15,109.45 172.74,108.29 174.32,107.11 174.93,106.64 174.32,106.33 172.74,105.52 171.15,104.73 170.73,104.53 169.56,105.37 167.95,106.50 166.33,107.60 164.70,108.68 163.06,109.74 161.41,110.78 159.74,111.79 158.06,112.77 156.36,113.73 154.65,114.66 152.92,115.55 151.17,116.42 149.41,117.25 147.63,118.05 145.83,118.81 144.01,119.54 142.17,120.23 140.31,120.88 138.42,121.49 136.52,122.06 134.59,122.58 132.64,123.07 130.66,123.50 128.66,123.89 126.64,124.23 124.58,124.53 122.50,124.77 120.40,124.96 118.26,125.10 116.09,125.18 113.90,125.21 116.09,125.23 118.26,125.29 120.40,125.38 122.50,125.51ZM147.63,130.09 149.41,130.63 151.17,131.20 152.92,131.79 154.65,132.40 156.36,133.04 158.06,133.69 159.74,134.36 161.41,135.05 163.06,135.76 163.87,136.11 164.70,135.66 166.33,134.75 167.95,133.82 169.56,132.87 171.15,131.91 172.74,130.94 174.32,129.95 175.89,128.94 177.45,127.93 179.01,126.91 180.56,125.87 182.11,124.83 183.65,123.78 185.18,122.72 186.71,121.66 188.24,120.60 189.77,119.53 191.30,118.46 192.82,117.38 193.51,116.90 192.82,116.51 191.30,115.64 189.77,114.78 188.24,113.91 186.71,113.05 185.18,112.18 183.65,111.33 182.11,110.48 180.56,109.63 179.01,108.79 178.16,108.34 177.45,108.80 175.89,109.82 174.32,110.82 172.74,111.81 171.15,112.78 169.56,113.74 167.95,114.69 166.33,115.62 164.70,116.53 163.06,117.42 161.41,118.29 159.74,119.14 158.06,119.97 156.36,120.77 154.65,121.55 152.92,122.31 151.17,123.03 149.41,123.73 147.63,124.41 145.83,125.05 144.01,125.66 142.17,126.24 140.31,126.79 138.42,127.30 137.45,127.54 138.42,127.74 140.31,128.16 142.17,128.60 144.01,129.07 145.83,129.57ZM180.56,144.41 182.11,145.26 183.65,146.11 185.18,146.96 186.71,147.83 188.24,148.69 189.77,149.56 191.30,150.42 192.82,151.29 194.35,152.16 195.88,153.03 197.41,153.90 198.94,154.76 200.47,155.62 202.00,156.48 202.06,156.51 203.54,155.96 205.09,155.40 206.64,154.84 208.20,154.29 209.76,153.74 211.33,153.20 212.91,152.66 214.50,152.14 216.09,151.62 217.70,151.11 219.32,150.60 220.95,150.11 222.59,149.63 224.24,149.16 225.91,148.70 227.59,148.25 229.29,147.82 231.00,147.40 232.73,146.99 234.48,146.59 236.24,146.22 238.02,145.85 239.82,145.51 241.64,145.18 243.48,144.86 245.34,144.57 247.23,144.29 249.13,144.03 251.06,143.79 253.01,143.57 254.99,143.37 256.99,143.20 259.01,143.04 261.07,142.91 263.15,142.80 265.25,142.71 267.39,142.65 269.56,142.61 271.75,142.60 269.56,142.58 267.39,142.52 265.25,142.43 263.15,142.30 261.07,142.13 259.01,141.93 256.99,141.70 254.99,141.44 253.01,141.14 251.06,140.81 249.13,140.45 247.23,140.06 245.34,139.65 243.48,139.20 241.64,138.73 239.82,138.24 238.02,137.72 236.24,137.17 234.48,136.61 232.73,136.02 231.00,135.40 229.29,134.77 227.59,134.12 225.91,133.45 224.24,132.76 222.59,132.05 220.95,131.33 219.32,130.59 217.70,129.84 216.09,129.07 214.50,128.29 212.91,127.50 211.33,126.70 209.79,125.90 209.76,125.92 208.20,126.46 206.64,127.02 205.09,127.58 203.54,128.14 202.00,128.71 200.47,129.28 198.94,129.85 197.41,130.43 195.88,131.01 194.35,131.59 192.82,132.16 191.30,132.74 189.77,133.32 188.24,133.90 186.71,134.48 185.18,135.05 183.65,135.62 182.11,136.19 180.56,136.75 179.01,137.31 177.45,137.87 175.89,138.41 174.32,138.96 172.74,139.49 171.76,139.82 172.74,140.30 174.32,141.11 175.89,141.92 177.45,142.74 179.01,143.57Z" fill="#4e7ea3" fill-rule="evenodd"/>
<rect x="97.30" y="33.04" width="16.60" height="15.65" fill="#cdecd2"/>
<rect x="97.30" y="48.69" width="16.60" height="128.69" fill="#c3d3e0"/>
<rect x="97.30" y="177.38" width="16.60" height="67.82" fill="#eec4ca"/>
<rect x="97.30" y="33.04" width="16.60" height="92.17" fill="none" stroke="#2a2a2a" stroke-width="1.25"/>
<rect x="97.30" y="125.21" width="16.60" height="119.99" fill="none" stroke="#2a2a2a" stroke-width="1.25"/>
<rect x="271.75" y="33.04" width="16.60" height="15.65" fill="#cdecd2"/>
<rect x="271.75" y="48.69" width="16.60" height="128.69" fill="#c3d3e0"/>
<rect x="271.75" y="177.38" width="16.60" height="67.82" fill="#eec4ca"/>
<rect x="271.75" y="33.04" width="16.60" height="52.17" fill="none" stroke="#2a2a2a" stroke-width="1.25"/>
<rect x="271.75" y="85.21" width="16.60" height="159.99" fill="none" stroke="#2a2a2a" stroke-width="1.25"/>
<rect x="446.50" y="33.04" width="16.60" height="15.65" fill="#cdecd2"/>
<rect x="446.50" y="48.69" width="16.60" height="128.69" fill="#c3d3e0"/>
<rect x="446.50" y="177.38" width="16.60" height="67.82" fill="#eec4ca"/>
<rect x="446.50" y="33.04" width="16.60" height="78.25" fill="none" stroke="#2a2a2a" stroke-width="1.25"/>
<rect x="446.50" y="111.30" width="16.60" height="133.90" fill="none" stroke="#2a2a2a" stroke-width="1.25"/>
<rect x="99.40" y="64.98" width="12.4" height="28.30" rx="2.2" fill="#fff"/>
<text transform="translate(108.65,79.13) rotate(-90)" text-anchor="middle" font-size="9.5" fill="#111">Low</text>
<rect x="99.40" y="171.05" width="12.4" height="28.30" rx="2.2" fill="#fff"/>
<text transform="translate(107.95,185.20) rotate(-90)" text-anchor="middle" font-size="9.5" fill="#111">High</text>
<rect x="273.85" y="44.98" width="12.4" height="28.30" rx="2.2" fill="#fff"/>
<text transform="translate(283.10,59.13) rotate(-90)" text-anchor="middle" font-size="9.5" fill="#111">Low</text>
<rect x="273.85" y="151.06" width="12.4" height="28.30" rx="2.2" fill="#fff"/>
<text transform="translate(282.40,165.21) rotate(-90)" text-anchor="middle" font-size="9.5" fill="#111">High</text>
<rect x="448.60" y="58.02" width="12.4" height="28.30" rx="2.2" fill="#fff"/>
<text transform="translate(457.85,72.17) rotate(-90)" text-anchor="middle" font-size="9.5" fill="#111">0–1</text>
<rect x="448.60" y="164.10" width="12.4" height="28.30" rx="2.2" fill="#fff"/>
<text transform="translate(457.85,178.25) rotate(-90)" text-anchor="middle" font-size="9.5" fill="#111">&gt;1</text>
<path d="M78.5,22.5V256H481.5" fill="none" stroke="#000" stroke-width="1.4"/>
<path d="M73.8,245.20H78.5" stroke="#000" stroke-width="1.2"/>
<text x="69.6" y="248.60" text-anchor="end" font-size="11.8">0</text>
<path d="M73.8,201.72H78.5" stroke="#000" stroke-width="1.2"/>
<text x="69.6" y="205.12" text-anchor="end" font-size="11.8">25</text>
<path d="M73.8,158.25H78.5" stroke="#000" stroke-width="1.2"/>
<text x="69.6" y="161.65" text-anchor="end" font-size="11.8">50</text>
<path d="M73.8,114.77H78.5" stroke="#000" stroke-width="1.2"/>
<text x="69.6" y="118.17" text-anchor="end" font-size="11.8">75</text>
<path d="M73.8,71.30H78.5" stroke="#000" stroke-width="1.2"/>
<text x="69.6" y="74.70" text-anchor="end" font-size="11.8">100</text>
<path d="M73.8,27.82H78.5" stroke="#000" stroke-width="1.2"/>
<text x="69.6" y="31.22" text-anchor="end" font-size="11.8">125</text>
<path d="M105.2,256V260" stroke="#000" stroke-width="1.2"/>
<path d="M280,256V260" stroke="#000" stroke-width="1.2"/>
<path d="M455.4,256V260" stroke="#000" stroke-width="1.2"/>
<text x="105.3" y="274.2" text-anchor="middle" font-size="11.3">FCS</text>
<text x="280" y="274.2" text-anchor="middle" font-size="11.3">LDH</text>
<text x="455" y="274.6" text-anchor="middle" font-size="11.3" textLength="84" lengthAdjust="spacingAndGlyphs">Extranodal sites</text>
<text x="282.7" y="295.2" text-anchor="middle" font-size="14" textLength="50" lengthAdjust="spacingAndGlyphs">Risk factor</text>
<text transform="translate(40.9,138.8) rotate(-90)" text-anchor="middle" font-size="13.9" textLength="95.6" lengthAdjust="spacingAndGlyphs">Number of patients</text>
<text x="10.6" y="22.3" font-size="17" font-weight="bold">A</text>
<path d="M120.00,331.00 120.00,384.30 130.90,384.30 130.90,412.80 142.30,412.80 142.30,436.50 418.50,436.50 418.50,331.00Z" fill="#cdebd0" fill-rule="evenodd"/>
<path d="M99.00,331.00 99.00,333.00 100.00,333.00 100.00,336.00 101.00,336.00 101.00,339.00 102.00,339.00 102.00,342.50 103.00,342.50 103.00,346.00 104.00,346.00 104.00,349.50 105.00,349.50 105.00,353.00 106.00,353.00 106.00,356.50 107.00,356.50 107.00,360.00 108.00,360.00 108.00,364.00 109.00,364.00 109.00,367.00 110.40,367.00 110.40,370.80 111.50,370.80 111.50,374.00 112.50,374.00 112.50,378.00 113.80,378.00 113.80,384.00 115.50,384.00 115.50,387.50 117.70,387.50 117.70,391.70 119.00,391.70 119.00,395.00 120.20,395.00 120.20,398.50 121.50,398.50 121.50,402.30 123.50,402.30 123.50,405.00 125.40,405.00 125.40,408.10 127.30,408.10 127.30,412.00 129.20,412.00 129.20,415.80 130.50,415.80 130.50,419.00 131.80,419.00 131.80,422.00 133.10,422.00 133.10,425.40 135.00,425.40 135.00,428.00 135.20,428.00 135.20,438.00 142.00,438.00 142.00,451.10 160.00,451.10 160.00,454.60 162.00,454.60 164.50,454.60 164.50,460.40 173.00,460.40 173.00,464.40 175.00,464.40 175.00,468.40 185.50,468.40 185.50,471.00 203.30,471.00 203.30,474.30 226.50,474.30 226.50,477.50 240.00,477.50 240.00,481.00 287.00,481.00 287.00,485.00 291.50,485.00 291.50,490.00 350.00,490.00 350.00,497.50 362.50,497.50 362.50,505.00 372.50,505.00 372.50,513.00 383.00,513.00 383.00,519.50 444.50,519.50 444.50,461.25 383.00,461.25 383.00,455.00 372.50,455.00 372.50,449.25 362.50,449.25 362.50,443.75 350.00,443.75 350.00,438.75 291.50,438.75 291.50,435.00 287.00,435.00 287.00,431.25 240.00,431.25 240.00,427.00 226.50,427.00 226.50,423.75 203.30,423.75 203.30,421.25 185.50,421.25 185.50,417.50 175.00,417.50 175.00,414.00 173.00,414.00 173.00,408.75 164.50,408.75 164.50,407.00 162.00,407.00 162.00,405.00 160.00,405.00 160.00,402.50 144.60,402.50 144.60,401.50 143.60,401.50 143.60,399.50 142.40,399.50 142.40,396.90 141.20,396.90 141.20,394.00 139.80,394.00 139.80,391.50 138.60,391.50 138.60,389.00 137.50,389.00 137.50,386.20 136.50,386.20 136.50,384.50 135.30,384.50 135.30,382.00 134.20,382.00 134.20,379.50 133.00,379.50 133.00,376.90 131.90,376.90 131.90,374.00 129.50,374.00 129.50,372.00 128.00,372.00 128.00,370.00 126.50,370.00 126.50,367.70 125.00,367.70 125.00,365.00 123.00,365.00 123.00,363.00 121.50,363.00 121.50,361.00 120.10,361.00 120.10,358.50 118.80,358.50 118.80,356.50 117.80,356.50 117.80,354.50 116.50,354.50 116.50,352.30 115.00,352.30 115.00,350.50 113.50,350.50 113.50,348.50 112.00,348.50 112.00,346.20 110.40,346.20 110.40,343.50 108.80,343.50 108.80,341.00 107.30,341.00 107.30,339.00 106.00,339.00 106.00,336.50 104.50,336.50 104.50,334.00 103.00,334.00 103.00,332.00 101.50,332.00 101.50,331.00Z" fill="#c4d4e0" fill-rule="evenodd"/>
<path d="M98.20,331.00 98.20,334.00 99.00,334.00 99.00,337.00 100.00,337.00 100.00,341.00 101.00,341.00 101.00,345.00 102.00,345.00 102.00,350.00 103.00,350.00 103.00,356.00 103.60,356.00 103.60,359.00 104.20,359.00 104.20,362.00 104.60,362.00 104.60,366.00 105.00,366.00 105.00,370.00 105.40,370.00 105.40,374.00 105.80,374.00 105.80,378.50 106.20,378.50 106.20,384.00 106.50,384.00 106.50,390.00 106.90,390.00 106.90,396.00 107.30,396.00 107.30,401.50 107.60,401.50 107.60,406.00 107.80,406.00 107.80,410.00 108.00,410.00 108.00,415.00 108.30,415.00 108.30,420.00 108.90,420.00 108.90,426.00 109.50,426.00 109.50,432.00 110.40,432.00 110.40,438.50 111.25,438.50 111.25,445.00 112.10,445.00 112.10,450.00 113.00,450.00 113.00,455.00 114.00,455.00 114.00,460.00 115.00,460.00 115.00,465.00 116.80,465.00 116.80,470.00 118.75,470.00 118.75,475.00 125.00,475.00 125.00,480.00 127.50,480.00 127.50,485.00 128.75,485.00 128.75,492.50 132.50,492.50 132.50,497.50 138.75,497.50 138.75,503.75 140.00,503.75 140.00,510.00 146.25,510.00 146.25,516.25 151.25,516.25 151.25,522.50 152.50,522.50 152.50,525.00 160.00,525.00 160.00,530.00 172.50,530.00 172.50,536.25 218.50,536.25 218.50,543.75 463.75,543.75 463.75,491.50 218.30,491.50 218.30,479.00 173.00,479.00 173.00,470.70 160.00,470.70 160.00,462.70 152.00,462.70 152.00,451.00 147.30,451.00 147.30,442.00 141.00,442.00 141.00,438.00 139.60,438.00 139.60,429.00 135.00,429.00 135.00,427.00 133.50,427.00 133.50,424.00 132.10,424.00 132.10,422.00 130.60,422.00 130.60,419.60 129.20,419.60 129.20,415.00 128.30,415.00 128.30,411.00 127.30,411.00 127.30,408.50 126.00,408.50 126.00,406.20 124.40,406.20 124.40,403.30 119.60,403.30 119.60,398.00 118.00,398.00 118.00,393.70 116.70,393.70 116.70,390.00 115.80,390.00 115.80,386.00 115.00,386.00 115.00,380.00 114.00,380.00 114.00,376.00 113.30,376.00 113.30,372.00 112.50,372.00 112.50,369.00 111.50,369.00 111.50,366.00 110.50,366.00 110.50,361.50 109.50,361.50 109.50,357.00 108.50,357.00 108.50,352.00 107.20,352.00 107.20,347.00 106.00,347.00 106.00,342.50 104.50,342.50 104.50,338.00 103.00,338.00 103.00,334.50 101.50,334.50 101.50,332.00 100.00,332.00 100.00,331.00Z" fill="#eec4ca" fill-rule="evenodd"/>
<path d="M120.00,384.30 130.90,384.30 130.90,412.80 142.30,412.80 142.30,436.50 291.50,436.50 291.50,435.00 287.00,435.00 287.00,431.25 240.00,431.25 240.00,427.00 226.50,427.00 226.50,423.75 203.30,423.75 203.30,421.25 185.50,421.25 185.50,417.50 175.00,417.50 175.00,414.00 173.00,414.00 173.00,408.75 164.50,408.75 164.50,407.00 162.00,407.00 162.00,405.00 160.00,405.00 160.00,402.50 144.60,402.50 144.60,401.50 143.60,401.50 143.60,399.50 142.40,399.50 142.40,396.90 141.20,396.90 141.20,394.00 139.80,394.00 139.80,391.50 138.60,391.50 138.60,389.00 137.50,389.00 137.50,386.20 136.50,386.20 136.50,384.50 135.30,384.50 135.30,382.00 134.20,382.00 134.20,379.50 133.00,379.50 133.00,376.90 131.90,376.90 131.90,374.00 129.50,374.00 129.50,372.00 128.00,372.00 128.00,370.00 126.50,370.00 126.50,367.70 125.00,367.70 125.00,365.00 123.00,365.00 123.00,363.00 121.50,363.00 121.50,361.00 120.10,361.00 120.10,358.50 120.00,358.50Z" fill="#8e9baa" fill-rule="evenodd"/>
<path d="M99.00,333.00 100.00,333.00 100.00,336.00 101.00,336.00 101.00,339.00 102.00,339.00 102.00,342.50 103.00,342.50 103.00,346.00 104.00,346.00 104.00,349.50 105.00,349.50 105.00,353.00 106.00,353.00 106.00,356.50 107.00,356.50 107.00,360.00 108.00,360.00 108.00,364.00 109.00,364.00 109.00,367.00 110.40,367.00 110.40,370.80 111.50,370.80 111.50,374.00 112.50,374.00 112.50,378.00 113.80,378.00 113.80,384.00 115.00,384.00 115.00,380.00 114.00,380.00 114.00,376.00 113.30,376.00 113.30,372.00 112.50,372.00 112.50,369.00 111.50,369.00 111.50,366.00 110.50,366.00 110.50,361.50 109.50,361.50 109.50,357.00 108.50,357.00 108.50,352.00 107.20,352.00 107.20,347.00 106.00,347.00 106.00,342.50 104.50,342.50 104.50,338.00 103.00,338.00 103.00,334.50 101.50,334.50 101.50,332.00 100.00,332.00 100.00,331.00 99.00,331.00ZM115.50,387.50 115.80,387.50 115.80,386.00 115.50,386.00ZM123.50,405.00 124.40,405.00 124.40,403.30 123.50,403.30ZM125.40,408.10 126.00,408.10 126.00,406.20 125.40,406.20ZM127.30,412.00 128.30,412.00 128.30,411.00 127.30,411.00ZM133.10,425.40 133.50,425.40 133.50,424.00 133.10,424.00ZM135.20,438.00 139.60,438.00 139.60,429.00 135.20,429.00ZM142.00,451.10 152.00,451.10 152.00,451.00 147.30,451.00 147.30,442.00 142.00,442.00ZM350.00,497.50 362.50,497.50 362.50,505.00 372.50,505.00 372.50,513.00 383.00,513.00 383.00,519.50 444.50,519.50 444.50,491.50 350.00,491.50Z" fill="#c69096" fill-rule="evenodd"/>
<defs><clipPath id="kb1"><path d="M99.00,331.00 99.00,333.00 100.00,333.00 100.00,336.00 101.00,336.00 101.00,339.00 102.00,339.00 102.00,342.50 103.00,342.50 103.00,346.00 104.00,346.00 104.00,349.50 105.00,349.50 105.00,353.00 106.00,353.00 106.00,356.50 107.00,356.50 107.00,360.00 108.00,360.00 108.00,364.00 109.00,364.00 109.00,367.00 110.40,367.00 110.40,370.80 111.50,370.80 111.50,374.00 112.50,374.00 112.50,378.00 113.80,378.00 113.80,384.00 115.50,384.00 115.50,387.50 117.70,387.50 117.70,391.70 119.00,391.70 119.00,395.00 120.20,395.00 120.20,398.50 121.50,398.50 121.50,402.30 123.50,402.30 123.50,405.00 125.40,405.00 125.40,408.10 127.30,408.10 127.30,412.00 129.20,412.00 129.20,415.80 130.50,415.80 130.50,419.00 131.80,419.00 131.80,422.00 133.10,422.00 133.10,425.40 135.00,425.40 135.00,428.00 135.20,428.00 135.20,438.00 142.00,438.00 142.00,451.10 160.00,451.10 160.00,454.60 162.00,454.60 164.50,454.60 164.50,460.40 173.00,460.40 173.00,464.40 175.00,464.40 175.00,468.40 185.50,468.40 185.50,471.00 203.30,471.00 203.30,474.30 226.50,474.30 226.50,477.50 240.00,477.50 240.00,481.00 287.00,481.00 287.00,485.00 291.50,485.00 291.50,490.00 350.00,490.00 350.00,497.50 362.50,497.50 362.50,505.00 372.50,505.00 372.50,513.00 383.00,513.00 383.00,519.50 444.50,519.50 444.50,461.25 383.00,461.25 383.00,455.00 372.50,455.00 372.50,449.25 362.50,449.25 362.50,443.75 350.00,443.75 350.00,438.75 291.50,438.75 291.50,435.00 287.00,435.00 287.00,431.25 240.00,431.25 240.00,427.00 226.50,427.00 226.50,423.75 203.30,423.75 203.30,421.25 185.50,421.25 185.50,417.50 175.00,417.50 175.00,414.00 173.00,414.00 173.00,408.75 164.50,408.75 164.50,407.00 162.00,407.00 162.00,405.00 160.00,405.00 160.00,402.50 144.60,402.50 144.60,401.50 143.60,401.50 143.60,399.50 142.40,399.50 142.40,396.90 141.20,396.90 141.20,394.00 139.80,394.00 139.80,391.50 138.60,391.50 138.60,389.00 137.50,389.00 137.50,386.20 136.50,386.20 136.50,384.50 135.30,384.50 135.30,382.00 134.20,382.00 134.20,379.50 133.00,379.50 133.00,376.90 131.90,376.90 131.90,374.00 129.50,374.00 129.50,372.00 128.00,372.00 128.00,370.00 126.50,370.00 126.50,367.70 125.00,367.70 125.00,365.00 123.00,365.00 123.00,363.00 121.50,363.00 121.50,361.00 120.10,361.00 120.10,358.50 118.80,358.50 118.80,356.50 117.80,356.50 117.80,354.50 116.50,354.50 116.50,352.30 115.00,352.30 115.00,350.50 113.50,350.50 113.50,348.50 112.00,348.50 112.00,346.20 110.40,346.20 110.40,343.50 108.80,343.50 108.80,341.00 107.30,341.00 107.30,339.00 106.00,339.00 106.00,336.50 104.50,336.50 104.50,334.00 103.00,334.00 103.00,332.00 101.50,332.00 101.50,331.00Z"/></clipPath></defs>
<path d="M97.30,331.00H120.00V350.40H130.90V370.00H142.30V389.40H418.50" fill="none" stroke="#28aa40" stroke-width="2.6" stroke-linejoin="miter" stroke-linecap="butt"/>
<path d="M97.30,331.00H120.00V350.40H130.90V370.00H142.30V389.40H418.50" fill="none" stroke="#2d785f" stroke-width="2.6" stroke-linejoin="miter" stroke-linecap="butt" clip-path="url(#kb1)"/>
<path d="M97.30,331.00H101.90V334.00H103.00V336.00H104.40V339.00H105.50V343.00H106.50V346.00H107.50V349.00H108.20V353.00H109.50V357.00H111.00V359.00H112.50V361.50H114.50V364.50H116.25V367.50H118.20V370.50H119.20V376.00H119.80V381.50H122.50V385.00H125.00V387.00H126.80V389.50H128.30V392.70H130.00V396.00H131.50V399.00H133.10V402.30H133.50V405.00H134.50V407.50H136.00V410.00H137.30V412.50H138.50V415.50H139.80V418.50H141.00V421.50H142.00V424.00H143.00V426.30H144.00V428.75H160.00V433.00H162.00V436.00H164.50V439.00H173.00V442.00H175.00V445.00H185.50V448.75H203.30V452.30H226.50V455.60H240.00V459.30H287.00V463.75H291.50V468.25H350.00V475.50H362.50V483.25H372.50V491.25H383.00V499.50H444.50" fill="none" stroke="#0c4682" stroke-width="2.6" stroke-linejoin="miter" stroke-linecap="butt"/>
<path d="M97.30,331.00H100.60V338.00H102.30V347.00H103.70V351.00H104.50V359.00H105.20V366.50H106.00V374.00H106.40V382.00H106.60V393.00H109.30V397.50H110.00V402.00H110.60V406.00H111.20V410.00H112.50V413.50H113.70V417.00H114.40V421.00H115.00V425.00H115.60V429.00H116.20V433.50H116.60V437.00H116.90V440.50H117.30V446.30H125.30V451.00H127.20V455.00H128.50V465.00H132.80V469.00H133.50V471.50H139.30V478.00H140.00V484.00H145.50V488.00H146.20V491.50H149.00V495.00H150.00V498.00H153.00V501.00H153.70V504.00H159.30V508.50H160.00V512.70H173.00V520.70H218.50V536.70H464.00" fill="none" stroke="#c80028" stroke-width="2.6" stroke-linejoin="miter" stroke-linecap="butt"/>
<path d="M78.5,320.50V555.80H482.9" fill="none" stroke="#000" stroke-width="1.4"/>
<path d="M73.1,331.00H78.5" stroke="#000" stroke-width="1.2"/>
<text x="68.7" y="334.80" text-anchor="end" font-size="11.2">100%</text>
<path d="M73.1,384.60H78.5" stroke="#000" stroke-width="1.2"/>
<text x="68.7" y="388.40" text-anchor="end" font-size="11.2">75%</text>
<path d="M73.1,438.30H78.5" stroke="#000" stroke-width="1.2"/>
<text x="68.7" y="442.10" text-anchor="end" font-size="11.2">50%</text>
<path d="M73.1,492.10H78.5" stroke="#000" stroke-width="1.2"/>
<text x="68.7" y="495.90" text-anchor="end" font-size="11.2">25%</text>
<path d="M73.1,545.60H78.5" stroke="#000" stroke-width="1.2"/>
<text x="68.7" y="549.40" text-anchor="end" font-size="11.2">0%</text>
<path d="M96.80,555.80V560.60" stroke="#000" stroke-width="1.2"/>
<text x="96.80" y="576.50" text-anchor="middle" font-size="11.3">0</text>
<path d="M158.07,555.80V560.60" stroke="#000" stroke-width="1.2"/>
<text x="158.07" y="576.50" text-anchor="middle" font-size="11.3">6</text>
<path d="M219.34,555.80V560.60" stroke="#000" stroke-width="1.2"/>
<text x="219.34" y="576.50" text-anchor="middle" font-size="11.3">12</text>
<path d="M280.61,555.80V560.60" stroke="#000" stroke-width="1.2"/>
<text x="280.61" y="576.50" text-anchor="middle" font-size="11.3">18</text>
<path d="M341.88,555.80V560.60" stroke="#000" stroke-width="1.2"/>
<text x="341.88" y="576.50" text-anchor="middle" font-size="11.3">24</text>
<path d="M403.15,555.80V560.60" stroke="#000" stroke-width="1.2"/>
<text x="403.15" y="576.50" text-anchor="middle" font-size="11.3">30</text>
<path d="M464.42,555.80V560.60" stroke="#000" stroke-width="1.2"/>
<text x="464.42" y="576.50" text-anchor="middle" font-size="11.3">36</text>
<text x="280.9" y="595.00" text-anchor="middle" font-size="14.2" textLength="72" lengthAdjust="spacingAndGlyphs">Time (months)</text>
<text transform="translate(28.8,437.80) rotate(-90)" text-anchor="middle" font-size="14.4" textLength="122" lengthAdjust="spacingAndGlyphs">Progression-free survival</text>
<text x="10.6" y="321.8" font-size="17" font-weight="bold">B</text>
<text x="456.1" y="332.60" font-size="10.5">Risk score</text>
<rect x="462.1" y="343.80" width="20.7" height="13.2" fill="#cdebd0"/>
<path d="M463.2,350.30H481.7" stroke="#28aa40" stroke-width="2.4" stroke-linecap="round"/>
<text x="490.6" y="351.20" font-size="11.2">0</text>
<rect x="462.1" y="358.55" width="20.7" height="13.2" fill="#c4d4e0"/>
<path d="M463.2,365.05H481.7" stroke="#0c4682" stroke-width="2.4" stroke-linecap="round"/>
<text x="490.6" y="368.80" font-size="11.2">1–2</text>
<rect x="462.1" y="373.30" width="20.7" height="13.2" fill="#eec4ca"/>
<path d="M463.2,379.80H481.7" stroke="#c80028" stroke-width="2.4" stroke-linecap="round"/>
<text x="490.6" y="386.40" font-size="11.2">3</text>
<text x="456.2" y="405.10" font-size="11.5">p &lt; 0.0001</text>
<text x="92.3" y="613.10" font-size="11.3" textLength="73.2" lengthAdjust="spacingAndGlyphs">Number at risk</text>
<path d="M58.8,624.20H72.6" stroke="#28aa40" stroke-width="1.6"/>
<text x="96.80" y="627.40" text-anchor="middle" font-size="11.2">11</text>
<text x="158.07" y="627.40" text-anchor="middle" font-size="11.2">8</text>
<text x="219.34" y="627.40" text-anchor="middle" font-size="11.2">6</text>
<text x="280.61" y="627.40" text-anchor="middle" font-size="11.2">6</text>
<text x="341.88" y="627.40" text-anchor="middle" font-size="11.2">2</text>
<text x="403.15" y="627.40" text-anchor="middle" font-size="11.2">1</text>
<text x="464.42" y="627.40" text-anchor="middle" font-size="11.2">0</text>
<path d="M58.8,637.70H72.6" stroke="#0c4682" stroke-width="1.6"/>
<text x="96.80" y="641.05" text-anchor="middle" font-size="11.2">76</text>
<text x="158.07" y="641.05" text-anchor="middle" font-size="11.2">38</text>
<text x="219.34" y="641.05" text-anchor="middle" font-size="11.2">27</text>
<text x="280.61" y="641.05" text-anchor="middle" font-size="11.2">20</text>
<text x="341.88" y="641.05" text-anchor="middle" font-size="11.2">11</text>
<text x="403.15" y="641.05" text-anchor="middle" font-size="11.2">5</text>
<text x="464.42" y="641.05" text-anchor="middle" font-size="11.2">0</text>
<path d="M58.8,651.20H72.6" stroke="#c80028" stroke-width="1.6"/>
<text x="96.80" y="654.70" text-anchor="middle" font-size="11.2">35</text>
<text x="158.07" y="654.70" text-anchor="middle" font-size="11.2">5</text>
<text x="219.34" y="654.70" text-anchor="middle" font-size="11.2">1</text>
<text x="280.61" y="654.70" text-anchor="middle" font-size="11.2">1</text>
<text x="341.88" y="654.70" text-anchor="middle" font-size="11.2">1</text>
<text x="403.15" y="654.70" text-anchor="middle" font-size="11.2">1</text>
<text x="464.42" y="654.70" text-anchor="middle" font-size="11.2">0</text>
<path d="M120.60,695.80 120.60,747.60 269.50,747.60 269.50,786.50 418.50,786.50 418.50,695.80Z" fill="#cdebd0" fill-rule="evenodd"/>
<path d="M99.00,695.80 99.00,697.50 101.00,697.50 101.00,700.00 103.00,700.00 103.00,703.00 104.50,703.00 104.50,706.00 106.00,706.00 106.00,710.00 107.50,710.00 107.50,713.50 114.50,713.50 114.50,720.00 115.20,720.00 115.20,726.00 119.80,726.00 119.80,731.00 121.40,731.00 121.40,736.60 145.00,736.60 145.00,745.00 155.50,745.00 155.50,749.50 166.00,749.50 166.00,752.50 167.50,752.50 167.50,760.00 177.20,760.00 177.20,767.50 183.50,767.50 183.50,773.50 202.80,773.50 202.80,781.50 227.20,781.50 227.20,790.00 231.00,790.00 231.00,800.00 234.80,800.00 234.80,813.00 258.50,813.00 258.50,817.50 292.00,817.50 292.00,821.50 304.50,821.50 304.50,827.50 350.50,827.50 350.50,845.00 362.50,845.00 362.50,855.00 382.50,855.00 382.50,864.50 392.00,864.50 392.00,880.00 444.50,880.00 444.50,810.00 392.00,810.00 392.00,796.25 382.50,796.25 382.50,789.00 362.50,789.00 362.50,782.50 350.50,782.50 350.50,772.50 304.50,772.50 304.50,768.75 292.00,768.75 292.00,765.00 269.50,765.00 269.50,763.75 258.20,763.75 258.20,760.00 234.60,760.00 234.60,756.25 232.30,756.25 232.30,748.75 229.50,748.75 229.50,742.50 226.80,742.50 226.80,736.25 203.30,736.25 203.30,734.50 200.00,734.50 200.00,731.25 185.00,731.25 185.00,728.50 183.50,728.50 183.50,725.00 175.80,725.00 175.80,718.75 165.80,718.75 165.80,712.50 147.00,712.50 147.00,710.00 142.80,710.00 142.80,708.00 138.20,708.00 138.20,705.50 121.60,705.50 121.60,700.00 118.00,700.00 118.00,698.50 114.00,698.50 114.00,697.80 109.00,697.80 109.00,697.00 105.00,697.00 105.00,696.30 102.00,696.30 102.00,695.80Z" fill="#c4d4e0" fill-rule="evenodd"/>
<path d="M99.00,695.80 99.00,698.00 100.50,698.00 100.50,702.00 101.50,702.00 101.50,706.00 102.50,706.00 102.50,710.00 103.70,710.00 103.70,715.00 104.00,715.00 104.00,733.00 109.50,733.00 109.50,745.00 110.50,745.00 110.50,752.00 112.00,752.00 112.00,755.00 113.75,755.00 113.75,757.50 114.50,757.50 114.50,762.00 115.20,762.00 115.20,767.00 116.25,767.00 116.25,775.00 116.90,775.00 116.90,784.00 117.50,784.00 117.50,792.50 121.25,792.50 121.25,795.00 122.50,795.00 122.50,807.50 123.75,807.50 123.75,817.50 127.50,817.50 127.50,818.75 128.75,818.75 128.75,824.50 138.75,824.50 138.75,825.00 140.00,825.00 140.00,830.00 147.50,830.00 147.50,830.50 148.75,830.50 148.75,836.25 151.25,836.25 151.25,837.00 152.50,837.00 152.50,847.50 153.75,847.50 153.75,862.50 170.50,862.50 170.50,870.00 201.50,870.00 201.50,877.00 214.00,877.00 214.00,883.70 218.80,883.70 218.80,895.80 344.00,895.80 344.00,902.50 464.25,902.50 464.25,838.00 343.75,838.00 343.75,830.80 218.50,830.80 218.50,813.75 214.50,813.75 214.50,805.00 202.00,805.00 202.00,797.50 170.80,797.50 170.80,790.00 153.75,790.00 153.75,770.00 152.50,770.00 152.50,765.00 148.20,765.00 148.20,758.75 138.20,758.75 138.20,752.50 127.50,752.50 127.50,747.50 123.50,747.50 123.50,732.00 119.80,732.00 119.80,726.00 115.20,726.00 115.20,713.50 113.70,713.50 113.70,705.00 106.00,705.00 106.00,702.00 105.00,702.00 105.00,699.00 103.00,699.00 103.00,697.00 101.00,697.00 101.00,695.80Z" fill="#eec4ca" fill-rule="evenodd"/>
<path d="M120.60,731.00 121.40,731.00 121.40,736.60 145.00,736.60 145.00,745.00 155.50,745.00 155.50,747.60 229.50,747.60 229.50,742.50 226.80,742.50 226.80,736.25 203.30,736.25 203.30,734.50 200.00,734.50 200.00,731.25 185.00,731.25 185.00,728.50 183.50,728.50 183.50,725.00 175.80,725.00 175.80,718.75 165.80,718.75 165.80,712.50 147.00,712.50 147.00,710.00 142.80,710.00 142.80,708.00 138.20,708.00 138.20,705.50 121.60,705.50 121.60,700.00 120.60,700.00ZM269.50,786.50 362.50,786.50 362.50,782.50 350.50,782.50 350.50,772.50 304.50,772.50 304.50,768.75 292.00,768.75 292.00,765.00 269.50,765.00Z" fill="#8e9baa" fill-rule="evenodd"/>
<path d="M120.60,747.60 127.50,747.60 127.50,747.50 123.50,747.50 123.50,732.00 120.60,732.00Z" fill="#c8a68c" fill-rule="evenodd"/>
<path d="M99.00,697.50 101.00,697.50 101.00,700.00 103.00,700.00 103.00,703.00 104.50,703.00 104.50,706.00 106.00,706.00 106.00,710.00 107.50,710.00 107.50,713.50 113.70,713.50 113.70,705.00 106.00,705.00 106.00,702.00 105.00,702.00 105.00,699.00 103.00,699.00 103.00,697.00 101.00,697.00 101.00,695.80 99.00,695.80ZM114.50,720.00 115.20,720.00 115.20,713.50 114.50,713.50ZM121.40,736.60 123.50,736.60 123.50,732.00 121.40,732.00ZM350.50,845.00 362.50,845.00 362.50,855.00 382.50,855.00 382.50,864.50 392.00,864.50 392.00,880.00 444.50,880.00 444.50,838.00 350.50,838.00Z" fill="#c69096" fill-rule="evenodd"/>
<path d="M121.40,736.60 123.50,736.60 123.50,732.00 121.40,732.00Z" fill="#a08a90" fill-rule="evenodd"/>
<defs><clipPath id="kb2"><path d="M99.00,695.80 99.00,697.50 101.00,697.50 101.00,700.00 103.00,700.00 103.00,703.00 104.50,703.00 104.50,706.00 106.00,706.00 106.00,710.00 107.50,710.00 107.50,713.50 114.50,713.50 114.50,720.00 115.20,720.00 115.20,726.00 119.80,726.00 119.80,731.00 121.40,731.00 121.40,736.60 145.00,736.60 145.00,745.00 155.50,745.00 155.50,749.50 166.00,749.50 166.00,752.50 167.50,752.50 167.50,760.00 177.20,760.00 177.20,767.50 183.50,767.50 183.50,773.50 202.80,773.50 202.80,781.50 227.20,781.50 227.20,790.00 231.00,790.00 231.00,800.00 234.80,800.00 234.80,813.00 258.50,813.00 258.50,817.50 292.00,817.50 292.00,821.50 304.50,821.50 304.50,827.50 350.50,827.50 350.50,845.00 362.50,845.00 362.50,855.00 382.50,855.00 382.50,864.50 392.00,864.50 392.00,880.00 444.50,880.00 444.50,810.00 392.00,810.00 392.00,796.25 382.50,796.25 382.50,789.00 362.50,789.00 362.50,782.50 350.50,782.50 350.50,772.50 304.50,772.50 304.50,768.75 292.00,768.75 292.00,765.00 269.50,765.00 269.50,763.75 258.20,763.75 258.20,760.00 234.60,760.00 234.60,756.25 232.30,756.25 232.30,748.75 229.50,748.75 229.50,742.50 226.80,742.50 226.80,736.25 203.30,736.25 203.30,734.50 200.00,734.50 200.00,731.25 185.00,731.25 185.00,728.50 183.50,728.50 183.50,725.00 175.80,725.00 175.80,718.75 165.80,718.75 165.80,712.50 147.00,712.50 147.00,710.00 142.80,710.00 142.80,708.00 138.20,708.00 138.20,705.50 121.60,705.50 121.60,700.00 118.00,700.00 118.00,698.50 114.00,698.50 114.00,697.80 109.00,697.80 109.00,697.00 105.00,697.00 105.00,696.30 102.00,696.30 102.00,695.80Z"/></clipPath></defs>
<path d="M97.30,695.50H120.60V715.00H269.50V739.50H418.50" fill="none" stroke="#28aa40" stroke-width="2.6" stroke-linejoin="miter" stroke-linecap="butt"/>
<path d="M97.30,695.50H120.60V715.00H269.50V739.50H418.50" fill="none" stroke="#2d785f" stroke-width="2.6" stroke-linejoin="miter" stroke-linecap="butt" clip-path="url(#kb2)"/>
<path d="M97.30,695.80H102.20V697.00H103.70V699.00H106.80V702.00H108.30V704.00H114.20V709.70H116.00V712.80H119.50V717.40H121.40V718.80H121.80V721.50H137.90V724.90H142.80V726.50H144.20V728.00H146.00V729.25H147.20V731.10H156.50V734.30H166.80V742.50H176.80V750.00H183.20V754.50H200.80V757.50H203.30V761.25H226.80V767.50H229.50V772.50H232.00V778.75H234.50V785.00H235.80V790.00H258.20V793.75H292.00V798.00H304.50V803.75H350.50V819.50H362.50V828.75H382.50V838.00H392.00V855.75H444.50" fill="none" stroke="#0c4682" stroke-width="2.6" stroke-linejoin="miter" stroke-linecap="butt"/>
<path d="M97.30,695.80H100.80V701.50H103.10V713.50H109.10V726.00H112.00V733.00H115.20V740.00H115.60V748.00H116.00V757.50H118.75V762.50H119.40V766.00H120.00V770.00H121.20V775.00H122.50V780.00H123.20V784.00H123.75V787.50H126.50V790.50H127.50V793.75H138.20V797.00H138.75V799.50H148.20V803.00H148.75V805.75H152.00V812.00H152.60V817.50H153.40V825.00H154.30V833.75H170.80V838.00H171.25V842.80H201.50V851.00H214.00V859.60H217.90V866.50H218.80V876.50H344.00V887.50H464.50" fill="none" stroke="#c80028" stroke-width="2.6" stroke-linejoin="miter" stroke-linecap="butt"/>
<path d="M78.5,683.70V919.00H482.9" fill="none" stroke="#000" stroke-width="1.4"/>
<path d="M73.1,694.20H78.5" stroke="#000" stroke-width="1.2"/>
<text x="68.7" y="698.00" text-anchor="end" font-size="11.2">100%</text>
<path d="M73.1,748.00H78.5" stroke="#000" stroke-width="1.2"/>
<text x="68.7" y="751.80" text-anchor="end" font-size="11.2">75%</text>
<path d="M73.1,801.30H78.5" stroke="#000" stroke-width="1.2"/>
<text x="68.7" y="805.10" text-anchor="end" font-size="11.2">50%</text>
<path d="M73.1,855.00H78.5" stroke="#000" stroke-width="1.2"/>
<text x="68.7" y="858.80" text-anchor="end" font-size="11.2">25%</text>
<path d="M73.1,908.30H78.5" stroke="#000" stroke-width="1.2"/>
<text x="68.7" y="912.10" text-anchor="end" font-size="11.2">0%</text>
<path d="M96.80,919.00V923.80" stroke="#000" stroke-width="1.2"/>
<text x="96.80" y="939.70" text-anchor="middle" font-size="11.3">0</text>
<path d="M158.07,919.00V923.80" stroke="#000" stroke-width="1.2"/>
<text x="158.07" y="939.70" text-anchor="middle" font-size="11.3">6</text>
<path d="M219.34,919.00V923.80" stroke="#000" stroke-width="1.2"/>
<text x="219.34" y="939.70" text-anchor="middle" font-size="11.3">12</text>
<path d="M280.61,919.00V923.80" stroke="#000" stroke-width="1.2"/>
<text x="280.61" y="939.70" text-anchor="middle" font-size="11.3">18</text>
<path d="M341.88,919.00V923.80" stroke="#000" stroke-width="1.2"/>
<text x="341.88" y="939.70" text-anchor="middle" font-size="11.3">24</text>
<path d="M403.15,919.00V923.80" stroke="#000" stroke-width="1.2"/>
<text x="403.15" y="939.70" text-anchor="middle" font-size="11.3">30</text>
<path d="M464.42,919.00V923.80" stroke="#000" stroke-width="1.2"/>
<text x="464.42" y="939.70" text-anchor="middle" font-size="11.3">36</text>
<text x="280.9" y="958.20" text-anchor="middle" font-size="14.2" textLength="72" lengthAdjust="spacingAndGlyphs">Time (months)</text>
<text transform="translate(26.8,801.60) rotate(-90)" text-anchor="middle" font-size="14.4" textLength="76.5" lengthAdjust="spacingAndGlyphs">Overall survival</text>
<text x="10.6" y="682.5" font-size="17" font-weight="bold">C</text>
<text x="456.1" y="697.60" font-size="10.5">Risk score</text>
<rect x="462.1" y="708.80" width="20.7" height="13.2" fill="#cdebd0"/>
<path d="M463.2,715.30H481.7" stroke="#28aa40" stroke-width="2.4" stroke-linecap="round"/>
<text x="490.6" y="716.20" font-size="11.2">0</text>
<rect x="462.1" y="723.55" width="20.7" height="13.2" fill="#c4d4e0"/>
<path d="M463.2,730.05H481.7" stroke="#0c4682" stroke-width="2.4" stroke-linecap="round"/>
<text x="490.6" y="733.80" font-size="11.2">1–2</text>
<rect x="462.1" y="738.30" width="20.7" height="13.2" fill="#eec4ca"/>
<path d="M463.2,744.80H481.7" stroke="#c80028" stroke-width="2.4" stroke-linecap="round"/>
<text x="490.6" y="751.40" font-size="11.2">3</text>
<text x="456.2" y="770.10" font-size="11.5">p &lt; 0.0001</text>
<text x="92.3" y="977.90" font-size="11.3" textLength="73.2" lengthAdjust="spacingAndGlyphs">Number at risk</text>
<path d="M58.8,989.00H72.6" stroke="#28aa40" stroke-width="1.6"/>
<text x="96.80" y="992.20" text-anchor="middle" font-size="11.2">11</text>
<text x="158.07" y="992.20" text-anchor="middle" font-size="11.2">10</text>
<text x="219.34" y="992.20" text-anchor="middle" font-size="11.2">8</text>
<text x="280.61" y="992.20" text-anchor="middle" font-size="11.2">6</text>
<text x="341.88" y="992.20" text-anchor="middle" font-size="11.2">2</text>
<text x="403.15" y="992.20" text-anchor="middle" font-size="11.2">1</text>
<text x="464.42" y="992.20" text-anchor="middle" font-size="11.2">0</text>
<path d="M58.8,1002.50H72.6" stroke="#0c4682" stroke-width="1.6"/>
<text x="96.80" y="1005.85" text-anchor="middle" font-size="11.2">76</text>
<text x="158.07" y="1005.85" text-anchor="middle" font-size="11.2">55</text>
<text x="219.34" y="1005.85" text-anchor="middle" font-size="11.2">42</text>
<text x="280.61" y="1005.85" text-anchor="middle" font-size="11.2">27</text>
<text x="341.88" y="1005.85" text-anchor="middle" font-size="11.2">14</text>
<text x="403.15" y="1005.85" text-anchor="middle" font-size="11.2">5</text>
<text x="464.42" y="1005.85" text-anchor="middle" font-size="11.2">0</text>
<path d="M58.8,1016.00H72.6" stroke="#c80028" stroke-width="1.6"/>
<text x="96.80" y="1019.50" text-anchor="middle" font-size="11.2">35</text>
<text x="158.07" y="1019.50" text-anchor="middle" font-size="11.2">9</text>
<text x="219.34" y="1019.50" text-anchor="middle" font-size="11.2">4</text>
<text x="280.61" y="1019.50" text-anchor="middle" font-size="11.2">4</text>
<text x="341.88" y="1019.50" text-anchor="middle" font-size="11.2">3</text>
<text x="403.15" y="1019.50" text-anchor="middle" font-size="11.2">1</text>
<text x="464.42" y="1019.50" text-anchor="middle" font-size="11.2">0</text>
<path d="M0.85,0V1030M0,0.75H520" stroke="#000" stroke-width="1.7"/>
<path d="M519,0V1030M0,1029H520" stroke="#000" stroke-width="2"/>
</svg>
</body></html>
